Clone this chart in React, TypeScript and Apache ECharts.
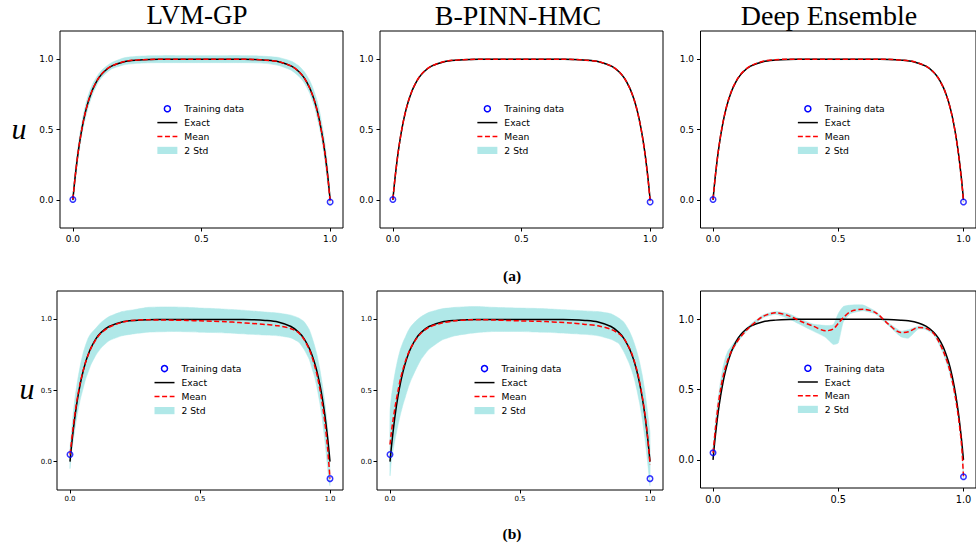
import React, { useEffect, useRef } from "react";
import * as echarts from "echarts";

// ---------- data ----------
const xs = [0, 0.005, 0.01, 0.02, 0.03, 0.04, 0.05, 0.06, 0.07, 0.08, 0.1, 0.12, 0.15, 0.2, 0.25, 0.3, 0.35, 0.4, 0.45, 0.5, 0.55, 0.6, 0.65, 0.7, 0.75, 0.8, 0.85, 0.88, 0.9, 0.92, 0.93, 0.94, 0.95, 0.96, 0.97, 0.98, 0.99, 0.995, 1];
const exactU = [0, 0.095, 0.181, 0.33, 0.451, 0.551, 0.632, 0.699, 0.753, 0.798, 0.865, 0.909, 0.95, 0.982, 0.993, 0.998, 0.999, 1, 1, 1, 1, 1, 0.999, 0.998, 0.993, 0.982, 0.95, 0.909, 0.865, 0.798, 0.753, 0.699, 0.632, 0.551, 0.451, 0.33, 0.181, 0.095, 0];

// (a) LVM-GP
const mean1 = [0.003, 0.097, 0.183, 0.332, 0.452, 0.552, 0.633, 0.7, 0.754, 0.799, 0.866, 0.91, 0.951, 0.983, 0.994, 0.998, 0.999, 1, 1, 1, 1, 1, 0.999, 0.998, 0.993, 0.982, 0.95, 0.909, 0.864, 0.797, 0.752, 0.698, 0.63, 0.548, 0.447, 0.325, 0.175, 0.088, -0.012];
const upper1 = [0.03, 0.14, 0.23, 0.38, 0.5, 0.6, 0.68, 0.745, 0.795, 0.835, 0.895, 0.935, 0.975, 1.01, 1.02, 1.024, 1.025, 1.025, 1.025, 1.025, 1.025, 1.025, 1.025, 1.024, 1.02, 1.012, 0.985, 0.95, 0.91, 0.85, 0.81, 0.76, 0.7, 0.62, 0.52, 0.4, 0.25, 0.15, 0.02];
const lower1 = [-0.02, 0.06, 0.14, 0.29, 0.41, 0.51, 0.59, 0.66, 0.715, 0.765, 0.84, 0.885, 0.93, 0.96, 0.97, 0.974, 0.975, 0.975, 0.975, 0.975, 0.975, 0.975, 0.975, 0.974, 0.97, 0.955, 0.92, 0.875, 0.83, 0.76, 0.71, 0.655, 0.58, 0.5, 0.4, 0.27, 0.12, 0.04, -0.04];
// (a) B-PINN-HMC
const mean2 = [0.003, 0.096, 0.182, 0.331, 0.452, 0.552, 0.633, 0.7, 0.754, 0.799, 0.866, 0.91, 0.951, 0.983, 0.994, 0.998, 0.999, 1, 1, 1, 1, 1, 0.999, 0.998, 0.993, 0.982, 0.95, 0.909, 0.864, 0.797, 0.752, 0.698, 0.631, 0.549, 0.448, 0.326, 0.176, 0.089, -0.012];
const upper2 = [0.01, 0.11, 0.195, 0.345, 0.465, 0.563, 0.642, 0.708, 0.761, 0.805, 0.871, 0.914, 0.954, 0.986, 0.997, 1.001, 1.002, 1.003, 1.003, 1.003, 1.003, 1.003, 1.002, 1.001, 0.997, 0.986, 0.955, 0.915, 0.871, 0.806, 0.762, 0.709, 0.643, 0.562, 0.462, 0.34, 0.19, 0.1, -0.005];
const lower2 = [-0.004, 0.082, 0.169, 0.318, 0.44, 0.541, 0.624, 0.692, 0.747, 0.793, 0.861, 0.906, 0.948, 0.98, 0.991, 0.995, 0.996, 0.997, 0.997, 0.997, 0.997, 0.997, 0.996, 0.995, 0.989, 0.978, 0.945, 0.903, 0.857, 0.788, 0.742, 0.687, 0.619, 0.536, 0.434, 0.312, 0.162, 0.078, -0.02];
// (a) Deep Ensemble
const mean3 = [0.003, 0.097, 0.184, 0.333, 0.454, 0.554, 0.635, 0.702, 0.756, 0.801, 0.867, 0.911, 0.952, 0.985, 0.996, 1, 1, 1, 1, 0.999, 0.999, 1, 1, 0.999, 0.994, 0.983, 0.95, 0.909, 0.864, 0.797, 0.752, 0.698, 0.631, 0.549, 0.448, 0.326, 0.176, 0.089, -0.012];
const upper3 = [0.01, 0.105, 0.192, 0.341, 0.462, 0.562, 0.642, 0.709, 0.762, 0.806, 0.871, 0.915, 0.955, 0.988, 0.999, 1.003, 1.003, 1.003, 1.003, 1.002, 1.002, 1.003, 1.003, 1.002, 0.997, 0.987, 0.954, 0.914, 0.87, 0.804, 0.76, 0.706, 0.639, 0.557, 0.456, 0.334, 0.184, 0.097, -0.005];
const lower3 = [-0.004, 0.089, 0.176, 0.325, 0.446, 0.546, 0.628, 0.695, 0.75, 0.796, 0.863, 0.907, 0.949, 0.982, 0.993, 0.997, 0.997, 0.997, 0.997, 0.996, 0.996, 0.997, 0.997, 0.996, 0.991, 0.979, 0.946, 0.904, 0.858, 0.79, 0.744, 0.69, 0.623, 0.541, 0.44, 0.318, 0.168, 0.081, -0.019];
// (b) LVM-GP
const mean4 = [0.05, 0.13, 0.21, 0.35, 0.465, 0.56, 0.635, 0.7, 0.75, 0.795, 0.86, 0.905, 0.945, 0.98, 0.995, 0.997, 0.996, 0.995, 0.993, 0.99, 0.987, 0.984, 0.978, 0.972, 0.965, 0.955, 0.935, 0.905, 0.86, 0.79, 0.74, 0.68, 0.61, 0.52, 0.41, 0.28, 0.11, 0, -0.12];
const upper4 = [0.1, 0.2, 0.3, 0.46, 0.58, 0.68, 0.76, 0.82, 0.87, 0.9, 0.94, 0.98, 1.02, 1.055, 1.07, 1.085, 1.088, 1.088, 1.085, 1.08, 1.077, 1.072, 1.067, 1.06, 1.052, 1.045, 1.03, 1.01, 0.985, 0.93, 0.88, 0.82, 0.75, 0.66, 0.55, 0.42, 0.25, 0.14, -0.06];
const lower4 = [-0.05, 0.05, 0.12, 0.24, 0.35, 0.44, 0.51, 0.58, 0.63, 0.68, 0.75, 0.8, 0.85, 0.885, 0.9, 0.91, 0.913, 0.915, 0.913, 0.91, 0.908, 0.905, 0.9, 0.895, 0.89, 0.885, 0.87, 0.84, 0.79, 0.72, 0.66, 0.6, 0.52, 0.42, 0.3, 0.15, -0.03, -0.12, -0.17];
// (b) B-PINN-HMC
const mean5 = [0.12, 0.2, 0.27, 0.39, 0.49, 0.58, 0.65, 0.71, 0.76, 0.8, 0.86, 0.905, 0.945, 0.975, 0.99, 0.997, 0.998, 0.996, 0.993, 0.99, 0.988, 0.985, 0.98, 0.975, 0.965, 0.955, 0.93, 0.9, 0.865, 0.8, 0.76, 0.705, 0.64, 0.56, 0.46, 0.34, 0.19, 0.09, -0.02];
const upper5 = [0.35, 0.45, 0.52, 0.63, 0.72, 0.79, 0.84, 0.88, 0.92, 0.95, 0.99, 1.02, 1.05, 1.075, 1.085, 1.09, 1.09, 1.085, 1.082, 1.08, 1.078, 1.075, 1.07, 1.065, 1.06, 1.055, 1.04, 1.01, 0.98, 0.92, 0.88, 0.83, 0.77, 0.7, 0.61, 0.5, 0.36, 0.28, 0.2];
const lower5 = [-0.1, 0, 0.06, 0.16, 0.25, 0.33, 0.4, 0.46, 0.52, 0.57, 0.65, 0.72, 0.79, 0.855, 0.885, 0.9, 0.91, 0.915, 0.915, 0.915, 0.912, 0.91, 0.905, 0.9, 0.895, 0.885, 0.86, 0.83, 0.77, 0.69, 0.64, 0.58, 0.5, 0.41, 0.3, 0.17, 0.01, -0.08, -0.17];
// (b) Deep Ensemble
const xs6 = [0, 0.005, 0.01, 0.02, 0.03, 0.04, 0.05, 0.06, 0.07, 0.08, 0.1, 0.12, 0.15, 0.2, 0.25, 0.3, 0.35, 0.4, 0.45, 0.48, 0.5, 0.52, 0.55, 0.6, 0.65, 0.7, 0.75, 0.78, 0.82, 0.85, 0.88, 0.9, 0.92, 0.94, 0.95, 0.96, 0.97, 0.98, 0.99, 0.995, 1];
const exact6 = [0, 0.095, 0.181, 0.33, 0.451, 0.551, 0.632, 0.699, 0.753, 0.798, 0.865, 0.909, 0.95, 0.982, 0.993, 0.998, 0.999, 1, 1, 1, 1, 1, 1, 1, 0.999, 0.998, 0.993, 0.988, 0.973, 0.95, 0.909, 0.865, 0.798, 0.699, 0.632, 0.551, 0.451, 0.33, 0.181, 0.095, 0];
const mean6 = [0.05, 0.14, 0.23, 0.38, 0.5, 0.59, 0.66, 0.715, 0.76, 0.795, 0.85, 0.895, 0.95, 1.02, 1.045, 1.025, 0.985, 0.95, 0.917, 0.93, 0.97, 1.01, 1.055, 1.07, 1.045, 0.965, 0.905, 0.91, 0.94, 0.935, 0.9, 0.845, 0.77, 0.67, 0.6, 0.52, 0.42, 0.3, 0.15, 0.04, -0.12];
const upper6 = [0.08, 0.18, 0.28, 0.43, 0.56, 0.66, 0.73, 0.775, 0.8, 0.825, 0.87, 0.91, 0.965, 1.03, 1.055, 1.04, 1.0, 0.965, 0.955, 0.96, 1.04, 1.09, 1.1, 1.1, 1.055, 0.975, 0.915, 0.925, 0.95, 0.945, 0.91, 0.86, 0.79, 0.7, 0.625, 0.54, 0.44, 0.32, 0.17, 0.06, -0.1];
const lower6 = [0.02, 0.11, 0.2, 0.35, 0.47, 0.56, 0.63, 0.69, 0.74, 0.78, 0.84, 0.885, 0.94, 1.01, 1.035, 1.005, 0.96, 0.915, 0.87, 0.82, 0.83, 0.98, 1.04, 1.06, 1.035, 0.955, 0.875, 0.865, 0.93, 0.925, 0.89, 0.83, 0.75, 0.645, 0.58, 0.5, 0.4, 0.29, 0.14, 0.03, -0.14];

const trainTop = [[0, 0.003], [1, -0.015]];
const trainBottom = [[0, 0.05], [1, -0.12]];

const methods = ["LVM-GP", "B-PINN-HMC", "Deep Ensemble"];
const legendLabels = ["Training data", "Exact", "Mean", "2 Std"];
const tickValues = [0, 0.5, 1];

// ---------- layout / style ----------
const BAND = "#b0e8e8";
const TITLE_X = [197, 518, 829];
const TITLE_SIZE = [27, 28, 28];

const PANELS = [
  { g: { left: 60, top: 31, width: 283, height: 197 }, x: xs, exact: exactU, mean: mean1, lower: lower1, upper: upper1, train: trainTop, fs: 9, lm: 6.5, legY: 108.7, legGap: 13.9 },
  { g: { left: 380, top: 31, width: 283, height: 197 }, x: xs, exact: exactU, mean: mean2, lower: lower2, upper: upper2, train: trainTop, fs: 9, lm: 6.5, legY: 108.7, legGap: 13.9 },
  { g: { left: 700.5, top: 31, width: 283, height: 197 }, x: xs, exact: exactU, mean: mean3, lower: lower3, upper: upper3, train: trainTop, fs: 9, lm: 6.5, legY: 108.7, legGap: 13.9 },
  { g: { left: 57, top: 291, width: 286, height: 199 }, x: xs, exact: exactU, mean: mean4, lower: lower4, upper: upper4, train: trainBottom, fs: 7, lm: 5, legY: 368.6, legGap: 14 },
  { g: { left: 377, top: 291, width: 286, height: 199 }, x: xs, exact: exactU, mean: mean5, lower: lower5, upper: upper5, train: trainBottom, fs: 7, lm: 5, legY: 368.6, legGap: 14 },
  { g: { left: 700.5, top: 291, width: 283, height: 197 }, x: xs6, exact: exact6, mean: mean6, lower: lower6, upper: upper6, train: trainBottom, fs: 9.8, lm: 6.5, legY: 368.3, legGap: 13.7 },
];

function buildOption() {
  const grid: any[] = [];
  const xAxis: any[] = [];
  const yAxis: any[] = [];
  const series: any[] = [];
  const graphic: any[] = [];

  PANELS.forEach((p, i) => {
    grid.push({ ...p.g, show: true, borderColor: "#000", borderWidth: 1, backgroundColor: "rgba(0,0,0,0)", containLabel: false });
    const common = (fs: number, margin: number) => ({
      axisLine: { show: false, onZero: false },
      axisTick: { show: true, inside: false, length: 3.5, lineStyle: { color: "#000", width: 1 }, customValues: tickValues },
      axisLabel: { customValues: tickValues, formatter: (v: number) => v.toFixed(1), fontSize: fs, color: "#000", fontFamily: "DejaVu Sans", margin },
      splitLine: { show: false },
    });
    xAxis.push({ type: "value", gridIndex: i, min: -0.05, max: 1.05, ...common(p.fs, p.lm) });
    yAxis.push({ type: "value", gridIndex: i, min: -0.2, max: 1.2, ...common(p.fs, p.lm) });

    // 2 Std band: one polygon, upper edge forward then lower edge backward
    series.push({
      type: "custom", xAxisIndex: i, yAxisIndex: i, silent: true, clip: true, z: 1,
      data: p.x.map((x, j) => [x, p.lower[j], p.upper[j]]),
      encode: { x: 0, y: [1, 2] },
      renderItem: (params: any, api: any) => {
        if (params.dataIndex !== 0) return null;
        const pts: number[][] = [];
        for (let j = 0; j < p.x.length; j++) pts.push(api.coord([p.x[j], p.upper[j]]));
        for (let j = p.x.length - 1; j >= 0; j--) pts.push(api.coord([p.x[j], p.lower[j]]));
        return { type: "polygon", shape: { points: pts, smooth: 0.15 }, style: { fill: BAND, stroke: BAND, lineWidth: 0.5 } };
      },
    });
    series.push({
      type: "line", xAxisIndex: i, yAxisIndex: i, name: "Exact",
      data: p.x.map((x, j) => [x, p.exact[j]]), symbol: "none", smooth: 0.3,
      lineStyle: { color: "#000", width: 1.5 }, z: 3,
    });
    series.push({
      type: "line", xAxisIndex: i, yAxisIndex: i, name: "Mean",
      data: p.x.map((x, j) => [x, p.mean[j]]), symbol: "none", smooth: 0.3,
      lineStyle: { color: "#ff0000", width: 1.5, type: [5, 2.6] }, z: 4,
    });
    series.push({
      type: "scatter", xAxisIndex: i, yAxisIndex: i, name: "Training data",
      data: p.train, symbol: "circle", symbolSize: 5.5,
      itemStyle: { color: "rgba(0,0,0,0)", borderColor: "#0000ff", borderWidth: 1.5 }, z: 5,
    });

    // legend drawn with graphic elements
    const x0 = p.g.left + p.g.width * (0.05 / 1.1);
    const mx = x0 + 94.5;
    const rows = [0, 1, 2, 3].map((k) => p.legY + k * p.legGap);
    graphic.push({ type: "circle", z: 100, shape: { cx: mx, cy: rows[0], r: 3 }, style: { fill: "none", stroke: "#0000ff", lineWidth: 1.5 } });
    graphic.push({ type: "line", z: 100, shape: { x1: mx - 10, y1: rows[1], x2: mx + 10, y2: rows[1] }, style: { stroke: "#000", lineWidth: 1.5 } });
    graphic.push({ type: "line", z: 100, shape: { x1: mx - 10, y1: rows[2], x2: mx + 10, y2: rows[2] }, style: { stroke: "#ff0000", lineWidth: 1.5, lineDash: [5, 2.6] } });
    graphic.push({ type: "rect", z: 100, shape: { x: mx - 10, y: rows[3] - 3.6, width: 20, height: 7.2 }, style: { fill: BAND } });
    legendLabels.forEach((t, k) => {
      graphic.push({ type: "text", z: 100, x: mx + 17, y: rows[k], style: { text: t, fontSize: 9.2, fontFamily: "DejaVu Sans", fill: "#000", align: "left", verticalAlign: "middle" } });
    });
  });

  methods.forEach((m, k) => {
    graphic.push({ type: "text", z: 100, x: TITLE_X[k], y: 15, style: { text: m, fontSize: TITLE_SIZE[k], fontFamily: "Liberation Serif", fill: "#000", align: "center", verticalAlign: "middle" } });
  });
  graphic.push({ type: "text", z: 100, x: 19, y: 128, style: { text: "u", fontSize: 30, fontStyle: "italic", fontFamily: "Liberation Serif", fill: "#000", align: "center", verticalAlign: "middle" } });
  graphic.push({ type: "text", z: 100, x: 27, y: 388, style: { text: "u", fontSize: 30, fontStyle: "italic", fontFamily: "Liberation Serif", fill: "#000", align: "center", verticalAlign: "middle" } });
  graphic.push({ type: "text", z: 100, x: 512, y: 275, style: { text: "(a)", fontSize: 15.5, fontWeight: "bold", fontFamily: "Liberation Serif", fill: "#000", align: "center", verticalAlign: "middle" } });
  graphic.push({ type: "text", z: 100, x: 512, y: 533, style: { text: "(b)", fontSize: 15.5, fontWeight: "bold", fontFamily: "Liberation Serif", fill: "#000", align: "center", verticalAlign: "middle" } });

  return { animation: false, backgroundColor: "#fff", grid, xAxis, yAxis, series, graphic };
}

export default function App() {
  const ref = useRef<HTMLDivElement>(null);
  useEffect(() => {
    document.body.style.margin = "0";
    const chart = echarts.init(ref.current!, null, { renderer: "svg" });
    chart.setOption(buildOption() as any);
    return () => chart.dispose();
  }, []);
  return <div ref={ref} style={{ width: 976, height: 548, position: "absolute", left: 0, top: 0 }} />;
}
